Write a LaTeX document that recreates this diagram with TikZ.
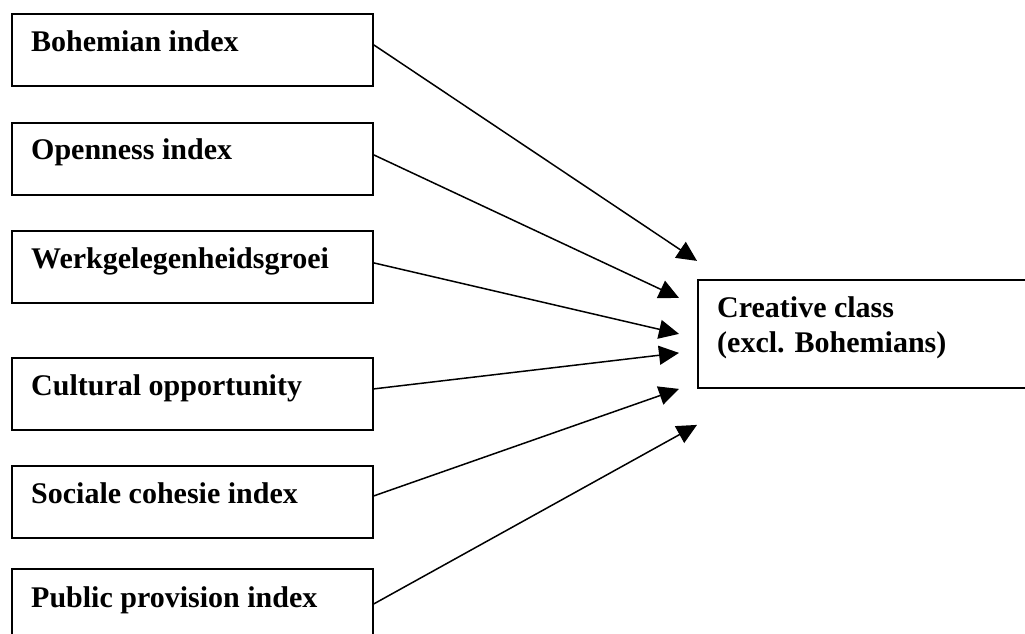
\documentclass[tikz,border=0pt]{standalone}
\usepackage{fontspec}
\setmainfont{Liberation Serif}
\usetikzlibrary{arrows.meta,calc}
\begin{document}
\begin{tikzpicture}[x=1pt,y=-1pt,
  box/.style={draw,line width=1.8pt,rectangle,inner sep=0pt,anchor=north west},
  srcbox/.style={box,minimum width=361pt,minimum height=72pt},
  lbl/.style={anchor=base west,inner sep=0pt,font=\fontsize{30}{35}\selectfont\bfseries},
  link/.style={line width=1.5pt,-{Triangle[length=20pt,width=19pt]}}]
\useasboundingbox (0,0) rectangle (1025,634);
\clip (0,0) rectangle (1025,634);

% factor boxes on the left
\node[srcbox] (b1) at (11,13) {};
\node[srcbox] (b2) at (11,122) {};
\node[srcbox] (b3) at (11,230) {};
\node[srcbox] (b4) at (11,357) {};
\node[srcbox] (b5) at (11,465) {};
\node[srcbox] (b6) at (11,568) {};

\node[lbl] (t1) at ($(b1.north west)+(20,39)$) {Bohemian index};
\node[lbl] (t2) at ($(b2.north west)+(20,37)$) {Openness index};
\node[lbl] (t3) at ($(b3.north west)+(20,38)$) {Werkgelegenheidsgroei};
\node[lbl] (t4) at ($(b4.north west)+(20,38)$) {Cultural opportunity};
\node[lbl] (t5) at ($(b5.north west)+(20,38)$) {Sociale cohesie index};
\node[lbl] (t6) at ($(b6.north west)+(20,39)$) {Public provision index};

% outcome box on the right
\node[box,minimum width=360pt,minimum height=108pt] (cc) at (697,279) {};
\node[lbl] (tc1) at ($(cc.north west)+(20,38)$) {Creative class};
\node[lbl] (tc2) at ($(cc.north west)+(20,73)$) {(excl. Bohemians)};

% arrow end points around the outcome box
\coordinate (e1) at ($(cc.west)+(0,-73)$);
\coordinate (e2) at ($(cc.west)+(-18,-36)$);
\coordinate (e3) at ($(cc.west)+(-18,0)$);
\coordinate (e4) at ($(cc.west)+(-18,19)$);
\coordinate (e5) at ($(cc.west)+(-18,55)$);
\coordinate (e6) at ($(cc.west)+(0,91)$);

\draw[link] ($(b1.east)+(0,-5)$) -- (e1);
\draw[link] ($(b2.east)+(0,-4)$) -- (e2);
\draw[link] ($(b3.east)+(0,-4)$) -- (e3);
\draw[link] ($(b4.east)+(0,-5)$) -- (e4);
\draw[link] ($(b5.east)+(0,-6)$) -- (e5);
\draw[link] ($(b6.east)+(0,-1)$) -- (e6);
\end{tikzpicture}
\end{document}
